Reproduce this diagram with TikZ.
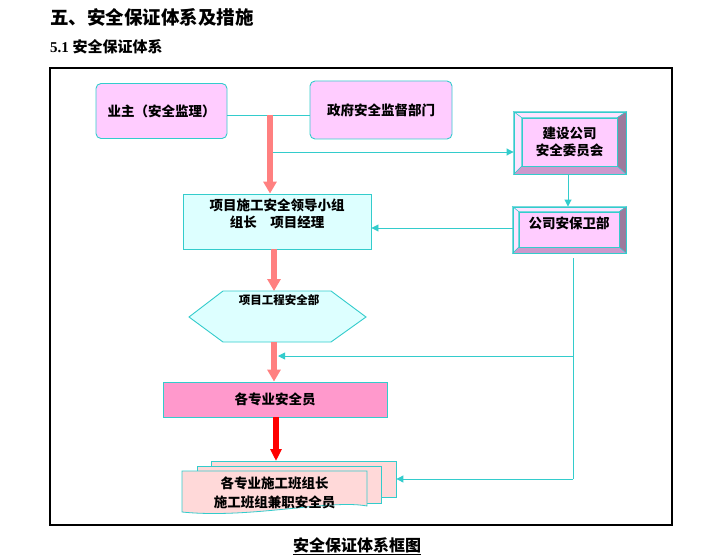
\documentclass[tikz,border=0pt]{standalone}
\usepackage{fontspec}
\setmainfont{Liberation Serif}
\newfontfamily\cjk{Noto Sans CJK SC}
\usetikzlibrary{arrows.meta,calc,backgrounds}
\definecolor{cyanb}{HTML}{33CCCC}
\definecolor{pinkv}{HTML}{FFCCFF}
\definecolor{lcyan}{HTML}{DDFFFF}
\definecolor{rosef}{HTML}{FF99CC}
\definecolor{docf}{HTML}{FFD9D9}
\definecolor{salm}{HTML}{FF8080}
\definecolor{bevlt}{HTML}{FFE3FF}
\definecolor{bevrt}{HTML}{9C7A9C}
\definecolor{bevbt}{HTML}{CC99CC}
\definecolor{redarr}{HTML}{FF0000}
\tikzset{
  txt/.style={font=\fontsize{13.5}{17.5}\selectfont\cjk\bfseries, inner sep=0pt, align=center},
  pinkbox/.style={draw=cyanb, line width=0.9pt, fill=pinkv, inner sep=0pt},
  cyanbox/.style={draw=cyanb, line width=0.9pt, fill=lcyan, inner sep=0pt},
  bevout/.style={draw=cyanb, line width=0.9pt, inner sep=0pt},
  docpage/.style={draw=cyanb, line width=0.8pt, fill=docf, inner sep=0pt},
  lnk/.style={cyanb, line width=0.9pt},
  lnkarr/.style={lnk, -{Triangle[width=7pt,length=7pt]}},
  fatarr/.style={salm, line width=5.5pt, -{Triangle[width=13pt,length=12pt]}},
  redfat/.style={redarr, line width=6pt, -{Triangle[width=11pt,length=12pt]}},
}
\begin{document}
\begin{tikzpicture}[x=1pt,y=-1pt]
\begin{scope}[on background layer]
\fill[white] (0,0) rectangle (720,559);
\end{scope}
\useasboundingbox (0,0) rectangle (720,559);

% headings
\node[anchor=west, inner sep=0pt, font=\fontsize{18.5}{20}\selectfont\cjk\bfseries] (t1) at (50,17) {五、安全保证体系及措施};
\node[anchor=west, inner sep=0pt, font=\fontsize{15}{17}\selectfont\bfseries] (t2) at (50,47) {5.1 {\cjk 安全保证体系}};

% frame
\draw[black, line width=1.1pt] (50,68) rectangle (672,525);

% top boxes
\node[pinkbox, rounded corners=5pt, minimum width=131pt, minimum height=55pt, txt] (yz) at (161.5,111) {业主（安全监理）};
\node[pinkbox, rounded corners=5pt, minimum width=142pt, minimum height=58pt, txt] (zf) at (381,110) {政府安全监督部门};
\coordinate (jn) at (270,115);
\draw[lnk] (yz.east |- jn) -- (zf.west |- jn);

% bevel box 1
\node[bevout, minimum width=112pt, minimum height=62pt] (js) at (570,143) {};
\node[pinkbox, minimum width=95pt, minimum height=48pt, txt] (jsi) at (569.5,142) {建设公司\\安全委员会};
\begin{scope}[on background layer]
\filldraw[fill=bevlt, draw=cyanb, line width=0.5pt] (js.north west) -- (js.north east) -- (jsi.north east) -- (jsi.north west) -- cycle;
\filldraw[fill=bevlt, draw=cyanb, line width=0.5pt] (js.north west) -- (jsi.north west) -- (jsi.south west) -- (js.south west) -- cycle;
\filldraw[fill=bevrt, draw=cyanb, line width=0.5pt] (js.north east) -- (js.south east) -- (jsi.south east) -- (jsi.north east) -- cycle;
\filldraw[fill=bevbt, draw=cyanb, line width=0.5pt] (js.south west) -- (jsi.south west) -- (jsi.south east) -- (js.south east) -- cycle;
\end{scope}

% bevel box 2
\node[bevout, minimum width=113pt, minimum height=46pt] (ab) at (569.5,230) {};
\node[pinkbox, minimum width=100pt, minimum height=35pt] (abi) at (569,229.5) {};
\node[txt] (abt) at (569,223) {公司安保卫部};
\begin{scope}[on background layer]
\filldraw[fill=bevlt, draw=cyanb, line width=0.5pt] (ab.north west) -- (ab.north east) -- (abi.north east) -- (abi.north west) -- cycle;
\filldraw[fill=bevlt, draw=cyanb, line width=0.5pt] (ab.north west) -- (abi.north west) -- (abi.south west) -- (ab.south west) -- cycle;
\filldraw[fill=bevrt, draw=cyanb, line width=0.5pt] (ab.north east) -- (ab.south east) -- (abi.south east) -- (abi.north east) -- cycle;
\filldraw[fill=bevbt, draw=cyanb, line width=0.5pt] (ab.south west) -- (abi.south west) -- (abi.south east) -- (ab.south east) -- cycle;
\end{scope}

% project leadership box
\node[cyanbox, minimum width=188pt, minimum height=55pt] (xm) at (277,221.5) {};
\node[txt] (xmt) at (277,214) {项目施工安全领导小组\\组长　项目经理};

% hexagon
\coordinate (h1) at (223,291);
\coordinate (h2) at (331,291);
\coordinate (h3) at (366,317);
\coordinate (h4) at (331,342);
\coordinate (h5) at (223,342);
\coordinate (h6) at (189,317);
\filldraw[fill=lcyan, draw=cyanb, line width=0.9pt] (h1) -- (h2) -- (h3) -- (h4) -- (h5) -- (h6) -- cycle;
\node[txt, font=\fontsize{11.5}{14}\selectfont\cjk\bfseries] (hx) at (279,300) {项目工程安全部};
\coordinate (hxtop) at (274,291);
\coordinate (hxbot) at (274,342);

% all specialties box
\node[draw=cyanb, line width=0.9pt, fill=rosef, minimum width=224pt, minimum height=35pt, txt] (ay) at (275,399.5) {各专业安全员};

% document stack
\node[docpage, minimum width=185pt, minimum height=36pt] (bk) at (303.5,479) {};
\node[docpage, minimum width=184pt, minimum height=37pt] (md) at (289,484.5) {};
\filldraw[fill=docf, draw=cyanb, line width=0.8pt] (182,471) -- (367,471) -- (367,506) .. controls (330,499) and (250,519) .. (182,512) -- cycle;
\node[txt] (dt) at (274.5,493) {各专业施工班组长\\[2pt]施工班组兼职安全员};
\coordinate (rt) at (276,461);

% fat arrows
\draw[fatarr] (jn) -- (jn |- xm.north);
\draw[fatarr] (xm.south -| hxtop) -- (hxtop);
\draw[fatarr] (hxbot) -- (hxbot |- ay.north);
\draw[redfat] (ay.south -| rt) -- (rt);

% cyan connectors
\coordinate (c1) at (273,152);
\draw[lnkarr] (c1) -- (c1 -| js.west);
\draw[lnkarr] (js.south -| 568,0) -- (ab.north -| 568,0);
\draw[lnkarr] (ab.west |- 0,228) -- (xm.east |- 0,228);
\coordinate (r1) at (573,258);
\coordinate (r2) at (573,356);
\coordinate (r3) at (573,479);
\draw[lnk] (r1) -- (r3);
\draw[lnkarr] (r2) -- (278,356);
\draw[lnkarr] (r3) -- (bk.east |- r3);

% caption
\node[inner sep=0pt, font=\fontsize{16}{18}\selectfont\cjk\bfseries] (cap) at (357,546) {\underline{安全保证体系框图}};
\end{tikzpicture}
\end{document}
